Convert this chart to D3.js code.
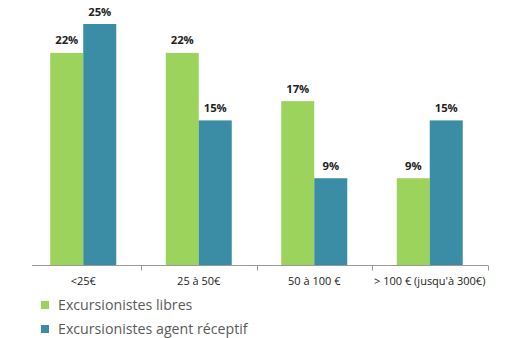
<!DOCTYPE html>
<html><head><meta charset="utf-8">
<script src="https://cdn.jsdelivr.net/npm/d3@7"></script>
<style>body{margin:0;background:#fff;} svg{display:block;}</style>
</head><body>
<svg id="c" width="519" height="338"></svg>
<script>
const categories = ["<25€", "25 à 50€", "50 à 100 €", "> 100 € (jusqu'à 300€)"];
const seriesNames = ["Excursionistes libres", "Excursionistes agent réceptif"];
const libres = [22, 22, 17, 9];
const agent = [25, 15, 9, 15];
const colors = ["#9bd35c", "#3a8da4"];

const svg = d3.select("#c");
const font = "'Open Sans', 'DejaVu Sans', sans-serif";
const x = d3.scaleBand().domain(categories).range([25.5, 487.5]);
const y = d3.scaleLinear().domain([0, 25]).range([265, 24]);
const inner = d3.scaleBand().domain([0, 1]).range([0, 66]);

const data = categories.map((c, i) => ({c, v: [libres[i], agent[i]]}));

const g = svg.append("g");
data.forEach(d => {
  const cx = x(d.c) + x.bandwidth() / 2;
  d.v.forEach((v, j) => {
    const bx = cx - 33 + inner(j);
    g.append("rect").attr("x", bx).attr("y", y(v)).attr("width", inner.bandwidth()).attr("height", y(0) - y(v)).attr("fill", colors[j]);
    g.append("text").attr("x", bx + inner.bandwidth() / 2).attr("y", y(v) - 8.5)
      .attr("text-anchor", "middle").attr("font-family", font).attr("font-weight", "bold")
      .attr("font-size", 11.3).attr("fill", "#222").text(v + "%");
  });
});

// axis
const axis = svg.append("g").attr("transform", "translate(0,265.5)");
axis.append("line").attr("x1", 32).attr("x2", 488).attr("stroke", "#999").attr("stroke-width", 1);
const edges = categories.slice(1).map(c => x(c)).concat([488]);
edges.forEach(e => axis.append("line").attr("x1", Math.round(e) + 0.5).attr("x2", Math.round(e) + 0.5).attr("y1", 0).attr("y2", 5).attr("stroke", "#999"));
categories.forEach(c => axis.append("text").attr("x", x(c) + x.bandwidth() / 2).attr("y", 19.5)
  .attr("text-anchor", "middle").attr("font-family", font).attr("font-size", 11).attr("fill", "#222").text(c));

// legend
seriesNames.forEach((n, i) => {
  const ly = 305 + i * 24;
  svg.append("rect").attr("x", 41).attr("y", ly - 4).attr("width", 8).attr("height", 8).attr("fill", colors[i]);
  svg.append("text").attr("x", 58).attr("y", ly + 5).attr("font-family", font).attr("font-size", 14.2).attr("fill", "#5a5a5a").text(n);
});
</script>
</body></html>
